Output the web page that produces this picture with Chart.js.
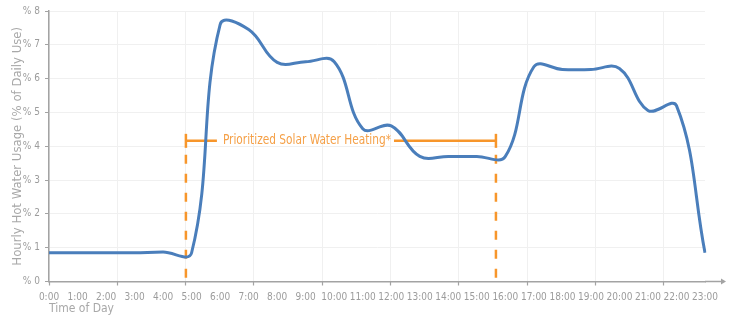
<!DOCTYPE html>
<html>
<head>
<meta charset="utf-8">
<script src="https://cdn.jsdelivr.net/npm/chart.js@4.4.1/dist/chart.umd.min.js"></script>
<style>
  html, body { margin: 0; padding: 0; background: #ffffff; }
  #wrap { width: 735px; height: 318px; }
</style>
</head>
<body>
<div id="wrap"><canvas id="c" width="735" height="318"></canvas></div>
<script>
// ---- data ----
const hourLabels = ['0:00','1:00','2:00','3:00','4:00','5:00','6:00','7:00','8:00','9:00','10:00','11:00',
                    '12:00','13:00','14:00','15:00','16:00','17:00','18:00','19:00','20:00','21:00','22:00','23:00'];
const hourlyUsage = [0.85,0.85,0.85,0.85,0.87,0.85,7.6,7.45,6.48,6.5,6.5,4.52,
                     4.6,3.7,3.7,3.7,3.7,6.35,6.27,6.27,6.3,5.06,5.2,0.85];
const yTickValues = [0,1,2,3,4,5,6,7,8];
const solarLabel = 'Prioritized Solar Water Heating*';
const solarStartHour = 4.8;
const solarEndHour = 15.67;
const solarBracketLevel = 4.16;

// ---- styles ----
const FONT = "'Liberation Sans Narrow', 'DejaVu Sans Condensed', 'Open Sans', sans-serif";
const LABEL_COLOR = '#9c9c9c';
const TITLE_COLOR = '#a8a8a8';
const AXIS_COLOR = '#a3a3a3';
const GRID_COLOR = '#f0f0f0';
const LINE_COLOR = '#4a7ebb';
const ORANGE = '#f7962b';
const ORANGE_TEXT = '#f5a047';

const solarPlugin = {
  id: 'solarBracket',
  beforeDatasetsDraw(chart) {
    const {ctx, chartArea} = chart;
    const xs = chart.scales.x, ys = chart.scales.y;
    const x1 = xs.getPixelForValue(solarStartHour);
    const x2 = xs.getPixelForValue(solarEndHour);
    const yb = ys.getPixelForValue(solarBracketLevel);
    ctx.save();
    ctx.strokeStyle = ORANGE;
    ctx.lineWidth = 2.5;
    ctx.setLineDash([9, 10]);
    [x1, x2].forEach(px => {
      ctx.beginPath(); ctx.moveTo(px, yb + 14); ctx.lineTo(px, chartArea.bottom - 2); ctx.stroke();
    });
    ctx.setLineDash([]);
    [x1, x2].forEach(px => {
      ctx.beginPath(); ctx.moveTo(px, yb - 7); ctx.lineTo(px, yb + 7); ctx.stroke();
    });
    const tx = x1 + 37;
    const sx = 0.84;
    ctx.font = '14px ' + FONT;
    const tw = ctx.measureText(solarLabel).width * sx;
    ctx.save();
    ctx.translate(tx, yb);
    ctx.scale(sx, 1);
    ctx.fillStyle = ORANGE_TEXT;
    ctx.textBaseline = 'middle';
    ctx.textAlign = 'left';
    ctx.fillText(solarLabel, 0, 0);
    ctx.restore();
    ctx.beginPath();
    ctx.moveTo(x1, yb); ctx.lineTo(tx - 6, yb);
    ctx.moveTo(tx + tw + 3, yb); ctx.lineTo(x2, yb);
    ctx.stroke();
    ctx.restore();
  },
  afterDraw(chart) {
    const {ctx, chartArea} = chart;
    const yb = chartArea.bottom;
    ctx.save();
    ctx.strokeStyle = AXIS_COLOR;
    ctx.fillStyle = AXIS_COLOR;
    ctx.lineWidth = 1.5;
    ctx.beginPath(); ctx.moveTo(chartArea.right, yb); ctx.lineTo(chartArea.right + 17, yb); ctx.stroke();
    ctx.beginPath();
    ctx.moveTo(chartArea.right + 21, yb);
    ctx.lineTo(chartArea.right + 16, yb - 3);
    ctx.lineTo(chartArea.right + 16, yb + 3);
    ctx.closePath(); ctx.fill();
    ctx.restore();
  }
};

new Chart(document.getElementById('c'), {
  type: 'line',
  data: {
    labels: hourLabels,
    datasets: [{
      data: hourlyUsage,
      borderColor: LINE_COLOR,
      borderWidth: 3,
      pointRadius: 0,
      tension: 0.4,
      fill: false,
      xAxisID: 'x',
      yAxisID: 'y'
    }]
  },
  options: {
    responsive: false,
    animation: false,
    devicePixelRatio: 1,
    layout: { padding: { left: 6, right: 30, top: 8, bottom: 0 } },
    plugins: { legend: { display: false }, tooltip: { enabled: false } },
    scales: {
      gx: {
        type: 'linear',
        position: 'bottom',
        min: 0,
        max: 9.605,
        afterFit(s) { s.height = 0; },
        ticks: { display: false, stepSize: 1, includeBounds: false },
        grid: { color: GRID_COLOR, lineWidth: 1, drawTicks: true, tickLength: 4, tickColor: AXIS_COLOR, tickWidth: 1.2 },
        border: { display: false }
      },
      x: {
        type: 'category',
        position: 'bottom',
        offset: false,
        afterFit(s) { s.height = 36.5; },
        grid: { display: false, drawTicks: false },
        border: { display: true, color: AXIS_COLOR, width: 1.5 },
        ticks: { autoSkip: false, maxRotation: 0, minRotation: 0, padding: 10, color: LABEL_COLOR, font: { family: FONT, size: 10 } },
        title: { display: true, text: 'Time of Day', align: 'start', color: TITLE_COLOR, font: { family: FONT, size: 12 }, padding: { top: 0, bottom: 1.8 } }
      },
      y: {
        type: 'linear',
        position: 'left',
        min: 0,
        max: 8,
        afterFit(s) { s.width = 43; },
        afterBuildTicks(s) { s.ticks = yTickValues.map(v => ({ value: v })); },
        ticks: { padding: 5, color: LABEL_COLOR, font: { family: FONT, size: 10 }, callback: v => '% ' + v },
        grid: { color: GRID_COLOR, lineWidth: 1, drawTicks: true, tickLength: 4, tickColor: AXIS_COLOR },
        border: { display: true, color: AXIS_COLOR, width: 1.5 },
        title: { display: true, text: 'Hourly Hot Water Usage (% of Daily Use)', color: TITLE_COLOR, font: { family: FONT, size: 13 }, padding: { top: 4, bottom: 4 } }
      }
    }
  },
  plugins: [solarPlugin]
});
</script>
</body>
</html>
